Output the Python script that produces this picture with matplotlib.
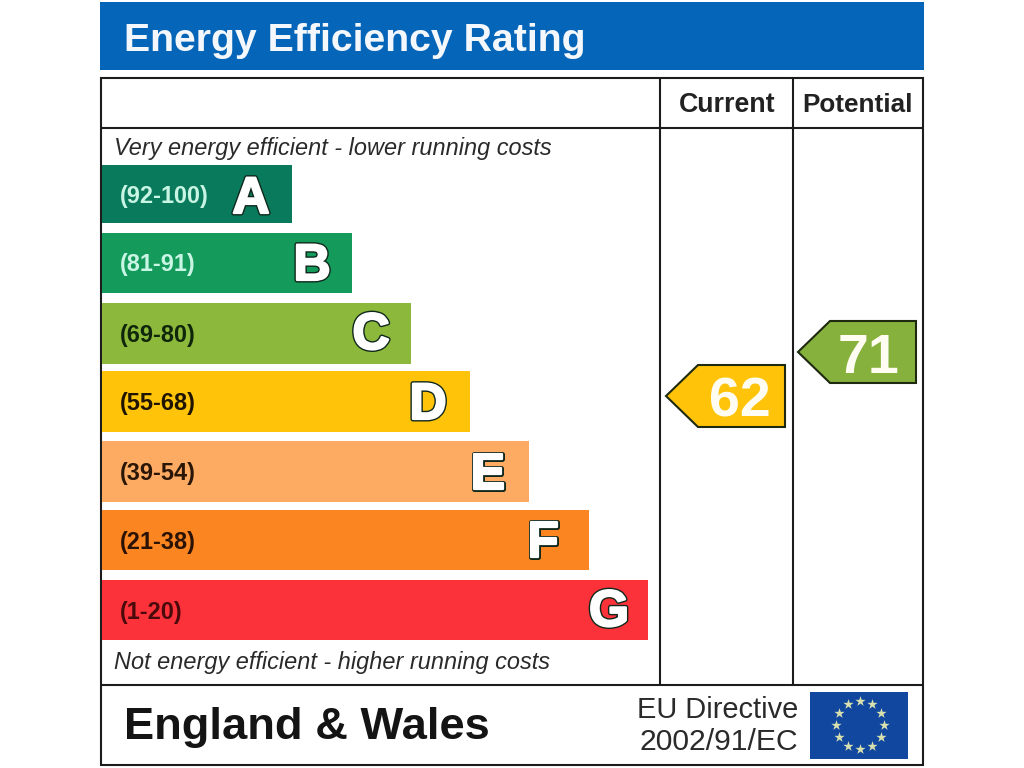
import numpy as np
import matplotlib
matplotlib.use("Agg")
import matplotlib.pyplot as plt
import matplotlib.patheffects as pe
from matplotlib.patches import Rectangle, Polygon

bands = ["A", "B", "C", "D", "E", "F", "G"]
ranges = ["(92-100)", "(81-91)", "(69-80)", "(55-68)", "(39-54)", "(21-38)", "(1-20)"]
bar_lengths = [190, 250, 309, 368, 427, 487, 546]
current_rating = 62
potential_rating = 71

band_colors = ["#0a7a5c", "#149a5b", "#8cb83c", "#ffc40a", "#fdaa63", "#fb8520", "#fb3239"]
range_colors = ["#c8f5e4", "#c8f5e4", "#10260a", "#1e1400", "#2a1606", "#2a1204", "#4a0a0c"]
tops = [165, 233, 303, 371, 441, 510, 580]
bots = [223, 293, 364, 432, 502, 570, 640]
letter_x = [251, 312, 371, 428, 488, 543, 609]
letter_y = [195, 262, 331, 401, 471, 539, 608]

plt.rcParams["font.family"] = ["Liberation Sans", "DejaVu Sans"]
fig = plt.figure(figsize=(10.24, 7.68), dpi=100, facecolor="white")
ax = fig.add_axes([0, 0, 1, 1])
ax.set_xlim(0, 1024)
ax.set_ylim(768, 0)
ax.axis("off")

INK = "#1c1c1c"
# title banner
ax.add_patch(Rectangle((100, 2), 824, 68, fc="#0565b8", ec="none"))
ax.text(124, 41, "Energy Efficiency Rating", color="#f4f8fc", fontsize=28.3, fontweight="bold",
        va="center", ha="left")

# table frame
ax.add_patch(Rectangle((100.5, 78), 822.5, 687, fc="white", ec=INK, lw=1.5, zorder=1))
for x0, y0, x1, y1 in [(100, 128, 923, 128), (100, 685, 923, 685), (660, 78, 660, 685), (793, 78, 793, 685)]:
    ax.plot([x0, x1], [y0, y1], color=INK, lw=1.5, zorder=2, solid_capstyle="butt")

ax.text(727, 105, "Current", fontsize=19.3, fontweight="bold", color="#222222", ha="center", va="center")
ax.text(857, 105, "Potential", fontsize=18.8, fontweight="bold", color="#222222", ha="center", va="center")

ax.text(114, 148, "Very energy efficient - lower running costs", fontsize=16.9, style="italic",
        color="#2a2a2a", ha="left", va="center")
ax.text(114, 663, "Not energy efficient - higher running costs", fontsize=16.9, style="italic",
        color="#2a2a2a", ha="left", va="center")

# bars
centers = [(t + b) / 2 for t, b in zip(tops, bots)]
heights = [b - t for t, b in zip(tops, bots)]
ax.barh(centers, bar_lengths, height=heights, left=102, color=band_colors, edgecolor="none", zorder=3)
for i, c in enumerate(centers):
    ax.text(120, c + 2, ranges[i], fontsize=16.9, fontweight="bold", color=range_colors[i],
            ha="left", va="center", zorder=4)
    ax.text(letter_x[i], letter_y[i] + 18, bands[i], fontsize=37, fontweight="bold", color="white",
            ha="center", va="baseline", zorder=4,
            path_effects=[pe.withStroke(linewidth=3.6, foreground="#10281c"),
                          pe.withStroke(linewidth=1.6, foreground="white")])

# rating arrows
rating_ax = fig.add_axes([0, 0, 1, 1], facecolor="none")
rating_ax.set_xlim(0, 1024)
rating_ax.set_ylim(62 - (768 - 396) / 4.89, 62 + 396 / 4.89)
rating_ax.axis("off")

def arrow(x_tip, x_right, x_text, rating, color):
    dy = 31 / 4.89
    shoulder = x_tip + 32
    rating_ax.add_patch(Polygon([(x_tip, rating), (shoulder, rating + dy), (x_right, rating + dy),
                                 (x_right, rating - dy), (shoulder, rating - dy)], closed=True,
                                fc=color, ec="#1e2a10", lw=1.5, zorder=5))
    rating_ax.text(x_text, rating - 21 / 4.89, str(rating), fontsize=40, fontweight="bold",
                   color="#fffdf2", ha="center", va="baseline", zorder=6)

arrow(666, 785, 739.5, current_rating, band_colors[3])
arrow(798, 916, 868, potential_rating, "#86b13c")

# footer
ax.text(124, 727, "England & Wales", fontsize=32.6, fontweight="bold", color="#141414", ha="left", va="center")
ax.text(798, 710, "EU Directive", fontsize=20.9, color="#2a2a2a", ha="right", va="center")
ax.text(798, 742, "2002/91/EC", fontsize=21.7, color="#2a2a2a", ha="right", va="center")

ax.add_patch(Rectangle((810, 692), 98, 67, fc="#12479f", ec="none", zorder=3))
ang = np.deg2rad(np.arange(0, 360, 30))
ax.scatter(860 + 24 * np.cos(ang), 725 + 24 * np.sin(ang), marker="*", s=60, color="#d8e0b0", zorder=4, linewidths=0)

fig.savefig("out.png", dpi=100, facecolor="white")
